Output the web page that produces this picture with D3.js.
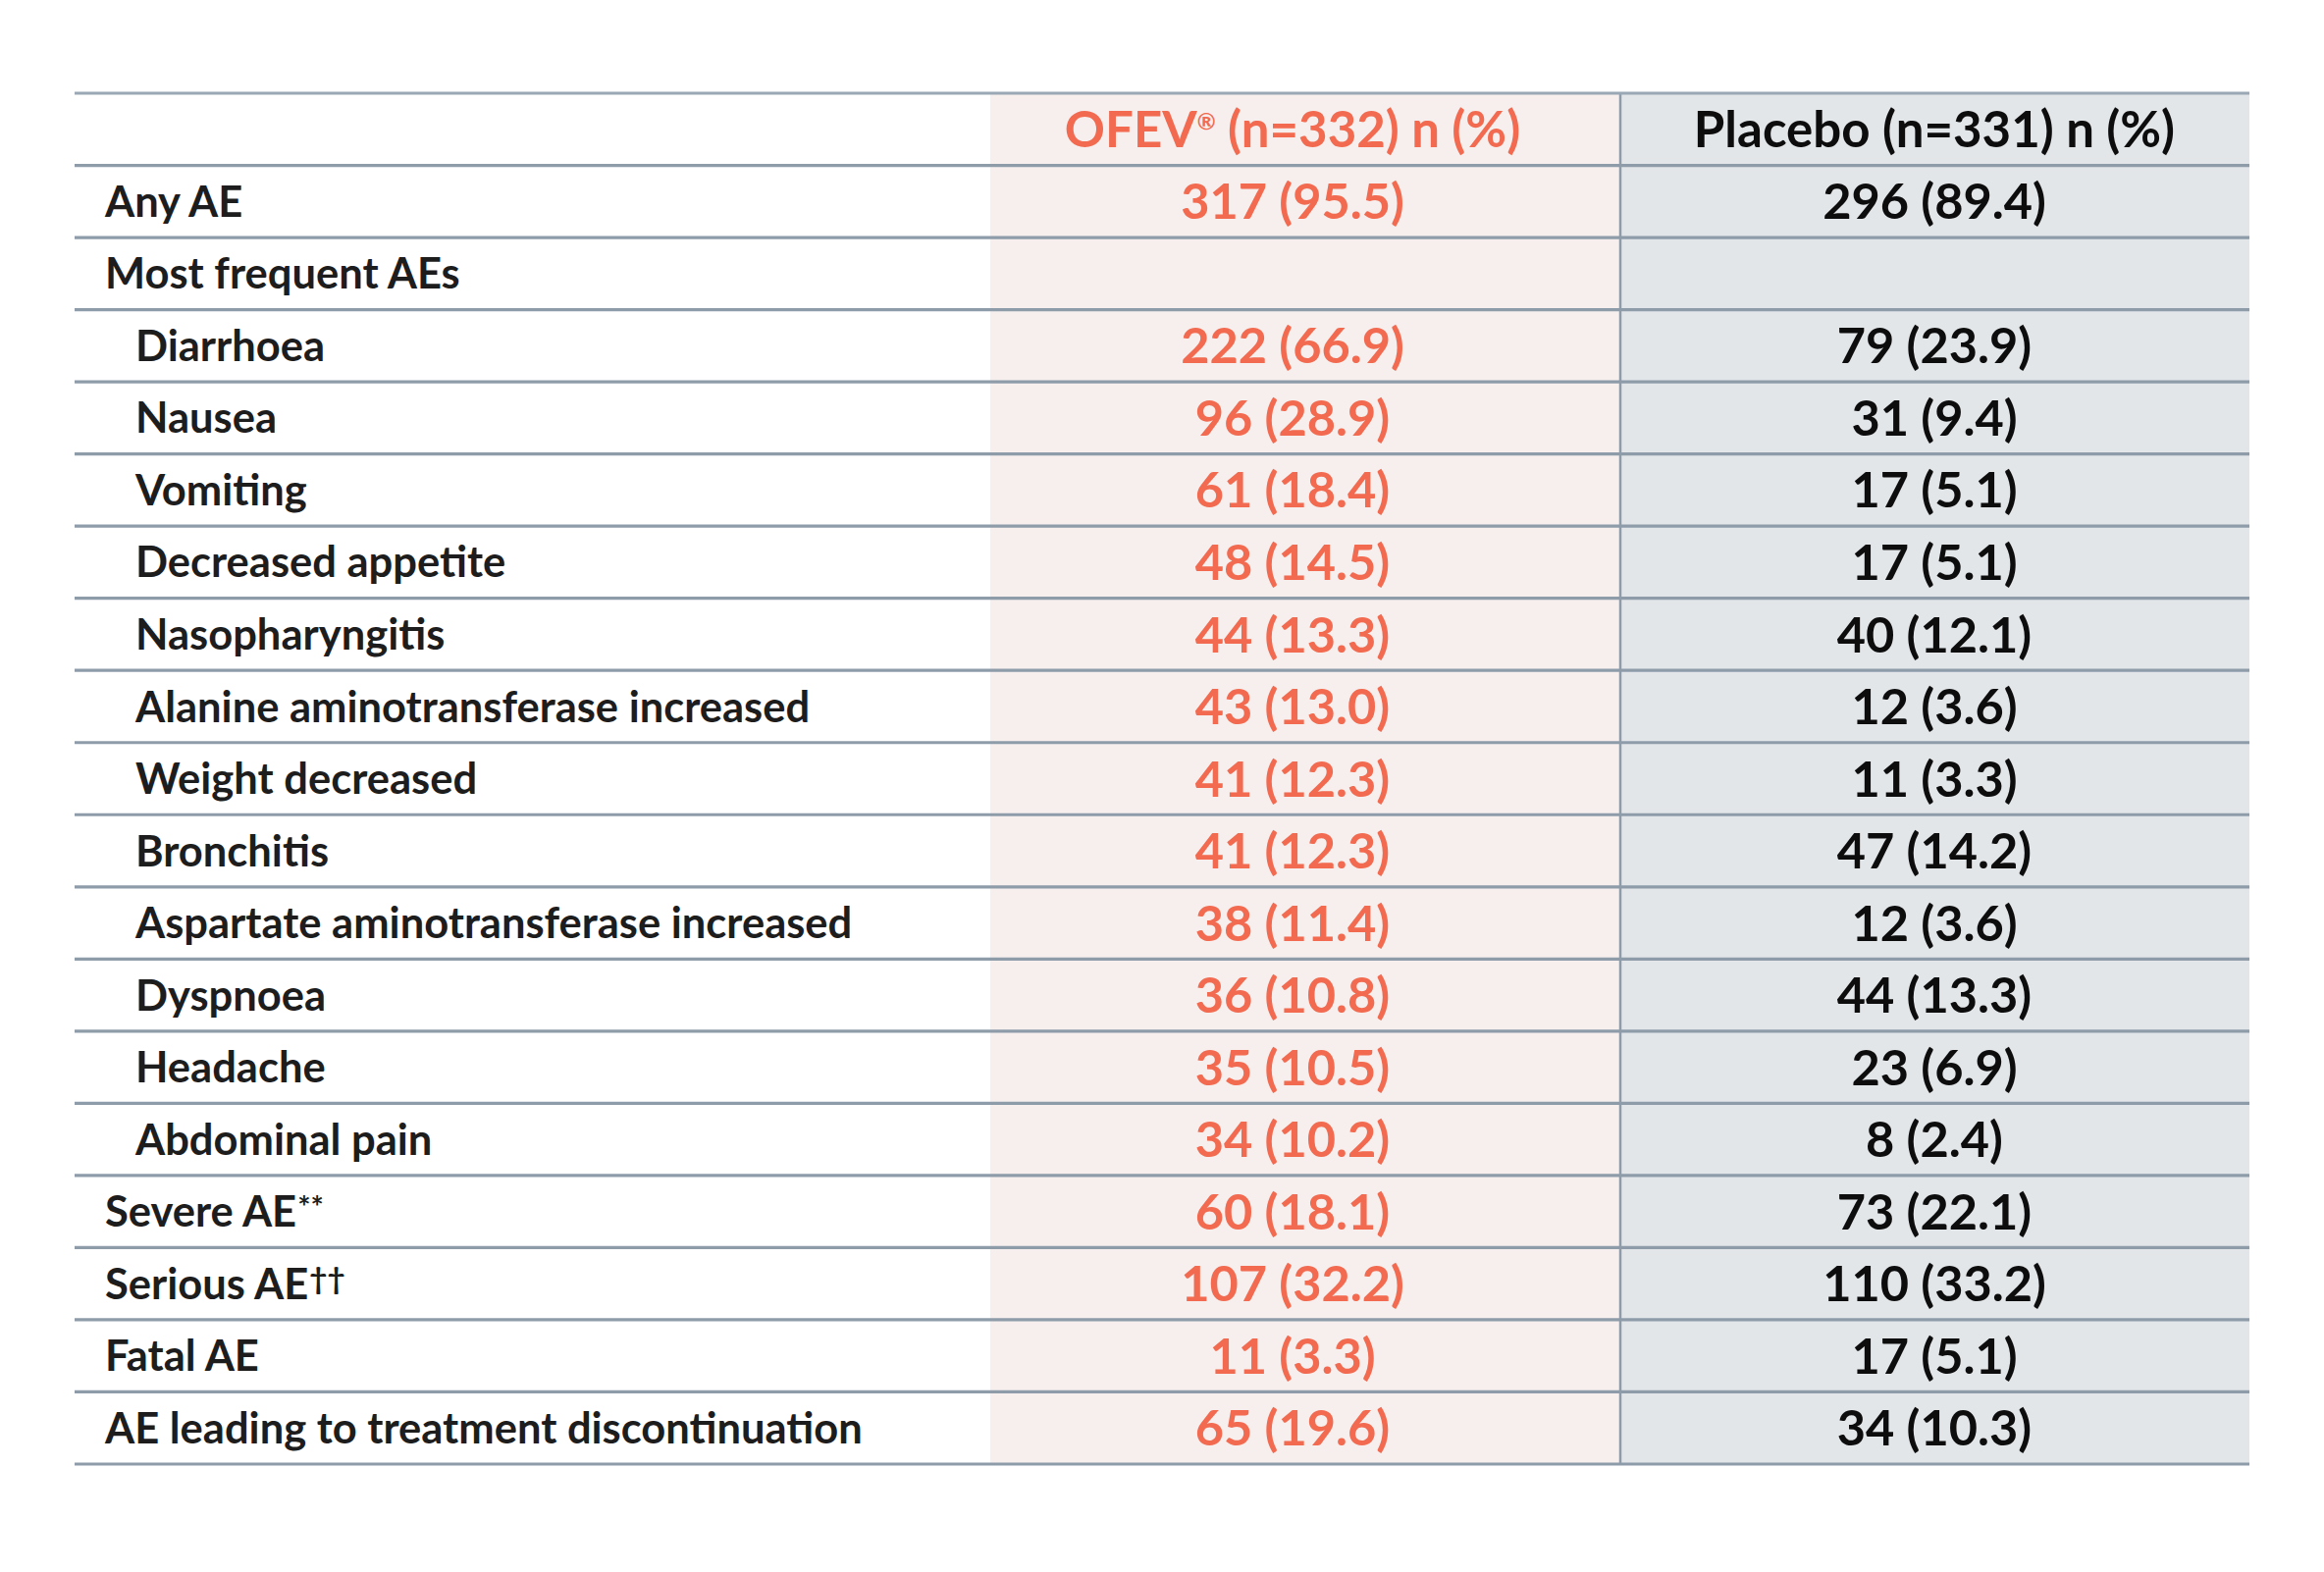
<!DOCTYPE html>
<html>
<head>
<meta charset="utf-8">
<script src="https://cdn.jsdelivr.net/npm/d3@7"></script>
<style>
  html, body { margin: 0; padding: 0; background: #ffffff; }
  svg { display: block; }
</style>
</head>
<body>
<svg id="chart" width="2368" height="1602"></svg>
<script>
// ---------- DATA ----------
const headers = ["", "OFEV", "Placebo (n=331) n (%)"];
const ofevHeaderRest = " (n=332) n (%)";
const labels = [
  "Any AE", "Most frequent AEs", "Diarrhoea", "Nausea", "Vomiting",
  "Decreased appetite", "Nasopharyngitis", "Alanine aminotransferase increased",
  "Weight decreased", "Bronchitis", "Aspartate aminotransferase increased",
  "Dyspnoea", "Headache", "Abdominal pain", "Severe AE", "Serious AE",
  "Fatal AE", "AE leading to treatment discontinuation"
];
const labelSup = ["", "", "", "", "", "", "", "", "", "", "", "", "", "", "**", "††", "", ""];
const indentLevel = [0, 0, 1, 1, 1, 1, 1, 1, 1, 1, 1, 1, 1, 1, 0, 0, 0, 0];
const ofevN   = [317, null, 222, 96, 61, 48, 44, 43, 41, 41, 38, 36, 35, 34, 60, 107, 11, 65];
const ofevPct = ["95.5", null, "66.9", "28.9", "18.4", "14.5", "13.3", "13.0", "12.3", "12.3", "11.4", "10.8", "10.5", "10.2", "18.1", "32.2", "3.3", "19.6"];
const placN   = [296, null, 79, 31, 17, 17, 40, 12, 11, 47, 12, 44, 23, 8, 73, 110, 17, 34];
const placPct = ["89.4", null, "23.9", "9.4", "5.1", "5.1", "12.1", "3.6", "3.3", "14.2", "3.6", "13.3", "6.9", "2.4", "22.1", "33.2", "5.1", "10.3"];

// ---------- LAYOUT ----------
(function () {
const svg = d3.select("#chart");
const FONT = "Lato, 'Noto Sans', sans-serif";
const x0 = 76, x1 = 2292, y0 = 95, y1 = 1492;
const colEdges = [x0, 1009, 1651, x1];
const ofevCenter = 1317, placCenter = 1971;
const colors = { pink: "#f6efed", gray: "#e2e6e9", line: "#8e9caa", coral: "#f26a50", dark: "#1d1d1d", black: "#0d0d0d" };

const rowKeys = ["header"].concat(labels.map((d, i) => i));
const y = d3.scaleBand().domain(rowKeys).range([y0, y1]).padding(0);
const rh = y.bandwidth();

svg.append("rect").attr("x", colEdges[1]).attr("y", y0).attr("width", colEdges[2] - colEdges[1]).attr("height", y1 - y0).attr("fill", colors.pink);
svg.append("rect").attr("x", colEdges[2]).attr("y", y0).attr("width", colEdges[3] - colEdges[2]).attr("height", y1 - y0).attr("fill", colors.gray);

svg.append("line").attr("x1", colEdges[2]).attr("x2", colEdges[2]).attr("y1", y0).attr("y2", y1)
  .attr("stroke", colors.line).attr("stroke-width", 2.5);

const lineYs = rowKeys.map(k => y(k)).concat([y1]);
svg.selectAll("line.h").data(lineYs).enter().append("line").attr("class", "h")
  .attr("x1", x0).attr("x2", x1).attr("y1", d => d).attr("y2", d => d)
  .attr("stroke", (d, i) => i === 0 ? "#9aa7b4" : colors.line).attr("stroke-width", 3.2);

const hdrFS = 51, lblFS = 43.5, valFS = 50.5;
const W = 700;
const hy = y("header") + rh / 2 + 0.358 * hdrFS;
const oh = svg.append("text").attr("x", ofevCenter).attr("y", hy).attr("text-anchor", "middle")
  .attr("font-family", FONT).attr("font-size", hdrFS).attr("font-weight", W).attr("fill", colors.coral);
oh.append("tspan").text(headers[1]);
oh.append("tspan").text("®").attr("font-size", hdrFS * 0.45).attr("dy", -hdrFS * 0.36);
oh.append("tspan").text(ofevHeaderRest).attr("dy", hdrFS * 0.36);
svg.append("text").attr("x", placCenter).attr("y", hy).attr("text-anchor", "middle")
  .attr("font-family", FONT).attr("font-size", hdrFS).attr("font-weight", W).attr("fill", colors.black)
  .text(headers[2]);

const rows = svg.selectAll("g.row").data(labels.map((d, i) => i)).enter().append("g").attr("class", "row")
  .attr("transform", i => `translate(0,${y(i) + rh / 2})`);

const lbl = rows.append("text")
  .attr("x", i => indentLevel[i] ? 138 : 107)
  .attr("y", 0.358 * lblFS)
  .attr("font-family", FONT).attr("font-size", lblFS).attr("font-weight", W).attr("fill", colors.dark);
lbl.append("tspan").text(i => labels[i]);
lbl.filter(i => labelSup[i]).append("tspan").text(i => labelSup[i])
  .attr("font-size", lblFS * 0.72).attr("dy", -lblFS * 0.22).attr("dx", 1);

rows.filter(i => ofevN[i] !== null).append("text")
  .attr("x", ofevCenter).attr("y", 0.358 * valFS).attr("text-anchor", "middle")
  .attr("font-family", FONT).attr("font-size", valFS).attr("font-weight", W).attr("fill", colors.coral)
  .text(i => `${ofevN[i]} (${ofevPct[i]})`);

rows.filter(i => placN[i] !== null).append("text")
  .attr("x", placCenter).attr("y", 0.358 * valFS).attr("text-anchor", "middle")
  .attr("font-family", FONT).attr("font-size", valFS).attr("font-weight", W).attr("fill", colors.black)
  .text(i => `${placN[i]} (${placPct[i]})`);
})();
</script>
</body>
</html>
